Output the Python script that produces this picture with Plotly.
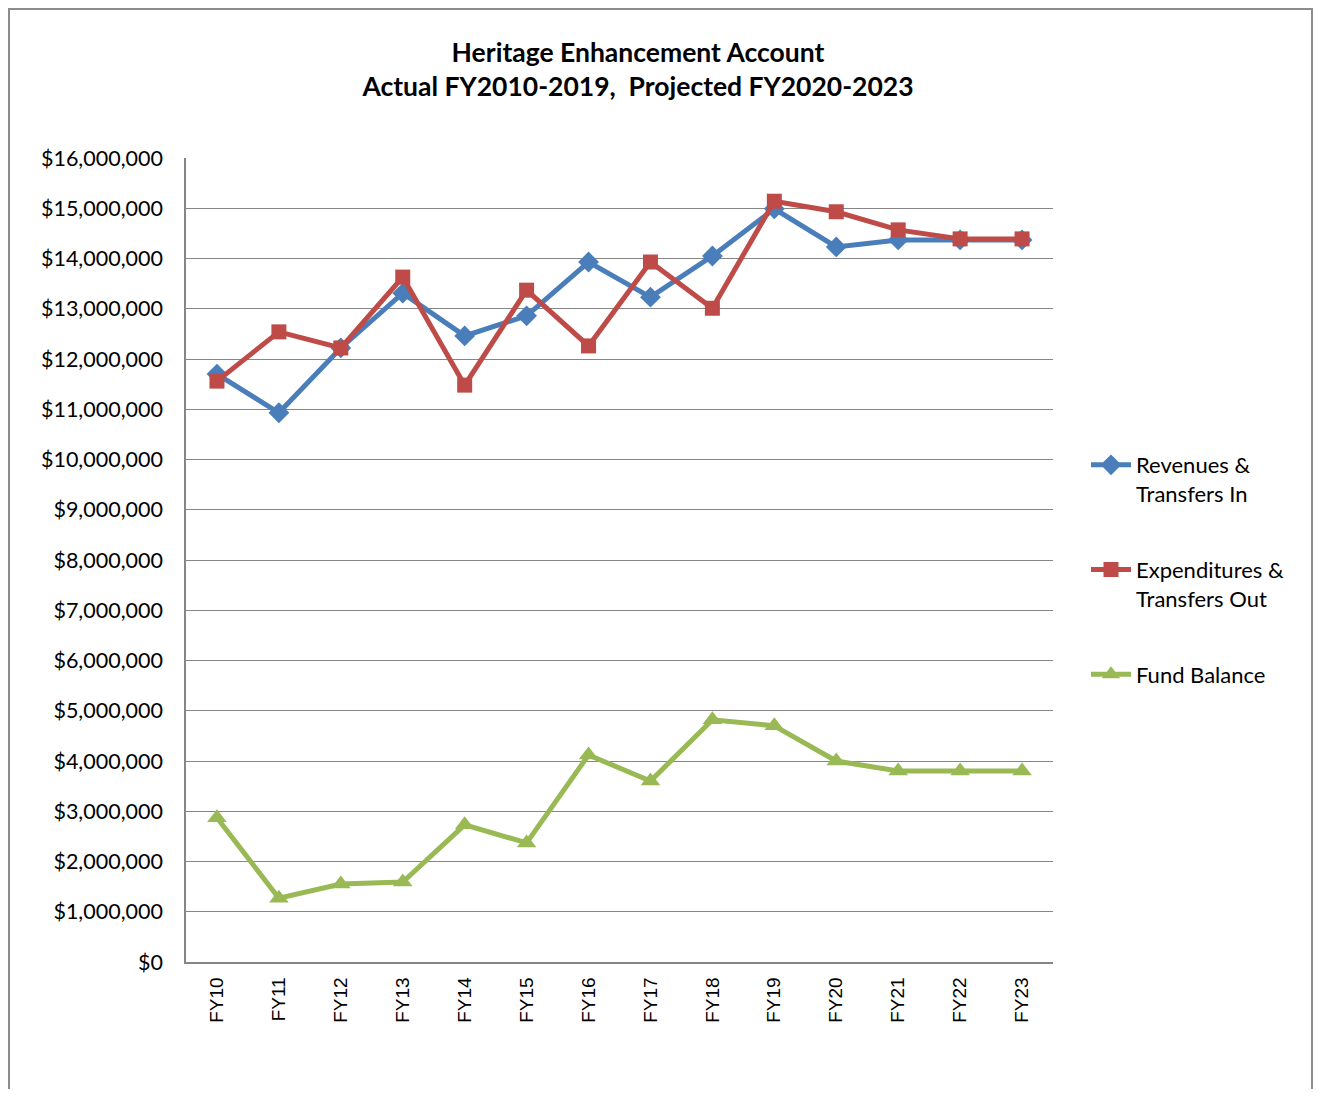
import plotly.graph_objects as go

# Fiscal years on the category axis
years = ["FY10", "FY11", "FY12", "FY13", "FY14", "FY15", "FY16",
         "FY17", "FY18", "FY19", "FY20", "FY21", "FY22", "FY23"]

# Values (dollars)
revenues = [11700000, 10930000, 12220000, 13310000, 12460000, 12860000, 13930000,
            13230000, 14050000, 14990000, 14230000, 14370000, 14370000, 14370000]
expenditures = [11560000, 12540000, 12220000, 13630000, 11480000, 13370000, 12260000,
                13930000, 13010000, 15140000, 14930000, 14570000, 14390000, 14390000]
fund_balance = [2870000, 1270000, 1550000, 1590000, 2730000, 2370000, 4120000,
                3600000, 4820000, 4700000, 4000000, 3800000, 3800000, 3800000]

y_ticks = list(range(0, 16000001, 1000000))
y_labels = ["$0"] + [f"${v:,}" for v in y_ticks[1:]]

# page has an 8px body margin, so figure coords = page coords - 8
OFF = 8
W, H = 1322 - OFF, 1097 - 2 * OFF
L, R, T, B = 186 - OFF, 1053 - OFF, 158 - OFF, 962 - OFF
PW, PH = R - L, B - T

FONT = "Lato, Open Sans, sans-serif"

fig = go.Figure()

fig.add_trace(go.Scatter(
    x=years, y=revenues, mode="lines+markers",
    name="Revenues &<br>Transfers In", legendgroup="a",
    line=dict(color="#4A7EBB", width=5),
    marker=dict(symbol="diamond", size=16, color="#4A7EBB"),
))
fig.add_trace(go.Scatter(
    x=years, y=expenditures, mode="lines+markers",
    name="Expenditures &<br>Transfers Out", legendgroup="b",
    line=dict(color="#BE4B48", width=5),
    marker=dict(symbol="square", size=15, color="#BE4B48"),
))
fig.add_trace(go.Scatter(
    x=years, y=fund_balance, mode="lines+markers",
    name="Fund Balance", legendgroup="c",
    line=dict(color="#98B954", width=5),
    marker=dict(symbol="triangle-up", size=17, color="#98B954"),
))

# outer chart border
fig.add_shape(
    type="rect", xref="paper", yref="paper",
    x0=(1 - L) / PW, x1=(1304 - L) / PW,
    y0=(B - 1110) / PH, y1=(B - 1) / PH,
    line=dict(color="#8C8C8C", width=2), layer="below",
)

fig.update_layout(
    width=W, height=H,
    margin=dict(l=L, r=W - R, t=T, b=H - B),
    paper_bgcolor="white", plot_bgcolor="white",
    font=dict(family=FONT, color="#000000"),
    title=dict(
        text="<b>Heritage Enhancement Account<br>Actual FY2010-2019,  Projected FY2020-2023</b>",
        x=(638 - OFF) / W, xanchor="center", xref="container",
        y=1 - (62 - OFF) / H, yanchor="middle",
        font=dict(size=26.5, family=FONT, color="#000000"),
    ),
    xaxis=dict(
        type="category", range=[-0.5, 13.5],
        showgrid=False, showline=True, linecolor="#868686", linewidth=1.5,
        ticks="", tickangle=-90, ticklabelstandoff=6,
        tickfont=dict(family="Liberation Sans, Arial, sans-serif", size=19, color="#000000"),
        fixedrange=True,
    ),
    yaxis=dict(
        range=[0, 16000000], tickvals=y_ticks, ticktext=y_labels,
        showgrid=True, gridcolor="#868686", gridwidth=1,
        showline=True, linecolor="#868686", linewidth=1.5,
        zeroline=False, ticks="", ticklabelstandoff=17,
        tickfont=dict(family=FONT, size=21.5, color="#000000"),
        fixedrange=True,
    ),
    legend=dict(
        x=(1078 - L) / PW, xanchor="left", y=(B - 436) / PH, yanchor="top",
        font=dict(family=FONT, size=22, color="#000000"),
        tracegroupgap=44.5, valign="top", itemwidth=40,
        bgcolor="rgba(0,0,0,0)",
    ),
)

fig.write_html("out.html")
